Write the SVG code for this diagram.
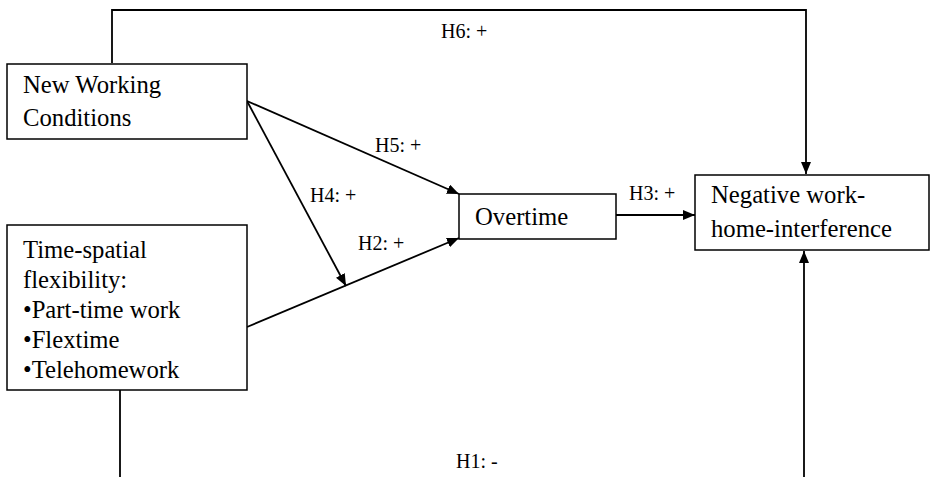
<svg xmlns="http://www.w3.org/2000/svg" width="930" height="477" viewBox="0 0 930 477">
<style>
.box{fill:#fff;stroke:#000;stroke-width:1.5}
text{font-family:'Liberation Serif','Times New Roman',Times,serif;fill:#000}
.t{font-size:24.7px}
.l{font-size:20px}
.c{fill:none;stroke:#000;stroke-width:1.8}
</style>
<defs>
<marker id="ah" viewBox="0 0 12 10" refX="12" refY="5" markerWidth="12" markerHeight="10" markerUnits="userSpaceOnUse" orient="auto">
<path d="M0,0 L12,5 L0,10 Z" fill="#000"/>
</marker>
</defs>
<g id="connectors">
<path class="c" d="M112,63 V10 H806 V174" marker-end="url(#ah)"/>
<line class="c" x1="247" y1="101" x2="459" y2="194" marker-end="url(#ah)"/>
<line class="c" x1="247" y1="101" x2="346" y2="286" marker-end="url(#ah)"/>
<line class="c" x1="247" y1="327" x2="459" y2="238" marker-end="url(#ah)"/>
<line class="c" x1="616" y1="215" x2="695" y2="215" marker-end="url(#ah)"/>
<line class="c" x1="120" y1="390" x2="120" y2="477"/>
<line class="c" x1="804" y1="477" x2="804" y2="251" marker-end="url(#ah)"/>
<text class="l" x="441" y="38">H6: +</text>
<text class="l" x="375" y="152">H5: +</text>
<text class="l" x="310" y="202">H4: +</text>
<text class="l" x="358" y="250">H2: +</text>
<text class="l" x="629" y="200">H3: +</text>
<text class="l" x="456" y="468">H1: -</text>
</g>
<g id="new-working-conditions">
<rect class="box" x="7" y="64" width="240" height="75"/>
<text class="t" x="23" y="93">New Working</text>
<text class="t" x="23" y="126">Conditions</text>
</g>
<g id="time-spatial-flexibility">
<rect class="box" x="7" y="225" width="240" height="165"/>
<text class="t" x="23" y="258">Time-spatial</text>
<text class="t" x="23" y="288">flexibility:</text>
<text class="t" x="23" y="318">•Part-time work</text>
<text class="t" x="23" y="348">•Flextime</text>
<text class="t" x="23" y="378">•Telehomework</text>
</g>
<g id="overtime">
<rect class="box" x="459" y="194" width="157" height="45"/>
<text class="t" x="475" y="225">Overtime</text>
</g>
<g id="negative-whi">
<rect class="box" x="695" y="175" width="234" height="75"/>
<text class="t" x="711" y="203">Negative work-</text>
<text class="t" x="711" y="237">home-interference</text>
</g>
</svg>
